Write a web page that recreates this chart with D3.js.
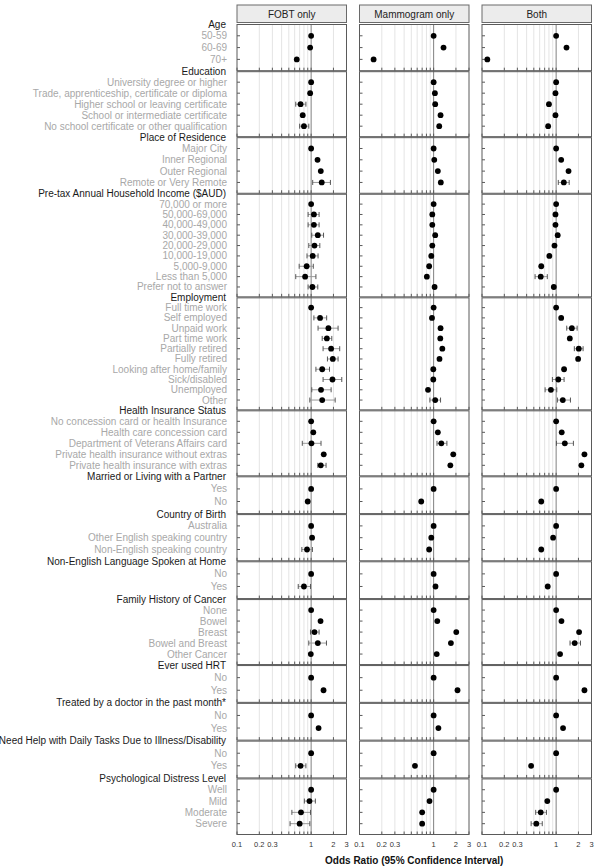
<!DOCTYPE html>
<html>
<head>
<meta charset="utf-8">
<script src="https://cdn.jsdelivr.net/npm/d3@7"></script>
<style>
  body { margin: 0; background: #fff; }
  text { font-family: "Liberation Sans", Arial, Helvetica, sans-serif; }
</style>
</head>
<body>
<svg id="chart" width="600" height="866"></svg>
<script>
// ---- data ----
const groups = [
  "Age", "Education", "Place of Residence", "Pre-tax Annual Household Income ($AUD)",
  "Employment", "Health Insurance Status", "Married or Living with a Partner",
  "Country of Birth", "Non-English Language Spoken at Home", "Family History of Cancer",
  "Ever used HRT", "Treated by a doctor in the past month*",
  "Need Help with Daily Tasks Due to Illness/Disability", "Psychological Distress Level"
];

const items = [
  ["50-59", "60-69", "70+"],
  ["University degree or higher", "Trade, apprenticeship, certificate or diploma",
   "Higher school or leaving certificate", "School or intermediate certificate",
   "No school certificate or other qualification"],
  ["Major City", "Inner Regional", "Outer Regional", "Remote or Very Remote"],
  ["70,000 or more", "50,000-69,000", "40,000-49,000", "30,000-39,000", "20,000-29,000",
   "10,000-19,000", "5,000-9,000", "Less than 5,000", "Prefer not to answer"],
  ["Full time work", "Self employed", "Unpaid work", "Part time work", "Partially retired",
   "Fully retired", "Looking after home/family", "Sick/disabled", "Unemployed", "Other"],
  ["No concession card or health Insurance", "Health care concession card",
   "Department of Veterans Affairs card", "Private health insurance without extras",
   "Private health insurance with extras"],
  ["Yes", "No"],
  ["Australia", "Other English speaking country", "Non-English speaking country"],
  ["No", "Yes"],
  ["None", "Bowel", "Breast", "Bowel and Breast", "Other Cancer"],
  ["No", "Yes"],
  ["No", "Yes"],
  ["No", "Yes"],
  ["Well", "Mild", "Moderate", "Severe"]
];

const panelTitles = ["FOBT only", "Mammogram only", "Both"];

const fobtOR = [
  [1, 0.97, 0.64],
  [1, 0.97, 0.72, 0.77, 0.80],
  [1, 1.22, 1.35, 1.39],
  [1, 1.09, 1.09, 1.23, 1.11, 1.05, 0.87, 0.83, 1.04],
  [1, 1.32, 1.71, 1.63, 1.86, 1.96, 1.41, 1.94, 1.36, 1.41],
  [1, 1.07, 1.01, 1.48, 1.35],
  [1, 0.90],
  [1, 1.03, 0.88],
  [1, 0.80],
  [1, 1.34, 1.11, 1.23, 0.99],
  [1, 1.47],
  [1, 1.26],
  [1, 0.72],
  [1, 0.95, 0.73, 0.70]
];
const fobtLo = [
  [null, null, null],
  [null, null, 0.62, null, 0.70],
  [null, null, null, 1.05],
  [null, 0.91, 0.91, 1.02, 0.93, 0.88, 0.69, 0.62, 0.91],
  [null, 1.09, 1.24, 1.41, 1.45, 1.66, 1.16, 1.45, 1.02, 0.96],
  [null, null, 0.76, null, 1.23],
  [null, null],
  [null, null, 0.75],
  [null, 0.67],
  [null, null, 0.98, 0.93, null],
  [null, null],
  [null, null],
  [null, 0.62],
  [null, 0.81, 0.55, 0.52]
];
const fobtHi = [
  [null, null, null],
  [null, null, 0.85, null, 0.93],
  [null, null, null, 1.82],
  [null, 1.28, 1.28, 1.47, 1.31, 1.24, 1.07, 1.16, 1.23],
  [null, 1.62, 2.31, 1.90, 2.43, 2.31, 1.77, 2.59, 1.86, 2.11],
  [null, null, 1.36, null, 1.59],
  [null, null],
  [null, null, 1.04],
  [null, 0.98],
  [null, null, 1.28, 1.61, null],
  [null, null],
  [null, null],
  [null, 0.85],
  [null, 1.14, 0.98, 0.96]
];

const mammoOR = [
  [1, 1.36, 0.155],
  [1, 1.04, 1.05, 1.24, 1.19],
  [1, 1.02, 1.14, 1.25],
  [1, 0.96, 0.96, 1.05, 0.96, 0.93, 0.87, 0.81, 1.03],
  [1, 0.95, 1.24, 1.23, 1.31, 1.20, 0.99, 0.99, 0.84, 1.05],
  [1, 1.14, 1.27, 1.84, 1.68],
  [1, 0.68],
  [1, 0.93, 0.87],
  [1, 1.06],
  [1, 1.12, 2.02, 1.71, 1.10],
  [1, 2.10],
  [1, 1.16],
  [1, 0.56],
  [1, 0.88, 0.70, 0.70]
];
const mammoLo = [
  [null, null, null],
  [null, null, null, null, null],
  [null, null, null, null],
  [null, null, null, null, null, null, null, null, null],
  [null, null, null, null, null, null, null, null, null, 0.89],
  [null, null, 1.11, null, null],
  [null, null],
  [null, null, null],
  [null, null],
  [null, null, null, null, null],
  [null, null],
  [null, null],
  [null, null],
  [null, null, null, null]
];
const mammoHi = [
  [null, null, null],
  [null, null, null, null, null],
  [null, null, null, null],
  [null, null, null, null, null, null, null, null, null],
  [null, null, null, null, null, null, null, null, null, 1.24],
  [null, null, 1.51, null, null],
  [null, null],
  [null, null, null],
  [null, null],
  [null, null, null, null, null],
  [null, null],
  [null, null],
  [null, null],
  [null, null, null, null]
];

const bothOR = [
  [1, 1.38, 0.118],
  [1, 0.98, 0.80, 0.98, 0.78],
  [1, 1.17, 1.47, 1.27],
  [1, 0.98, 0.98, 1.05, 0.95, 0.81, 0.63, 0.62, 0.93],
  [1, 1.17, 1.63, 1.53, 2.02, 1.98, 1.28, 1.07, 0.85, 1.23],
  [1, 1.19, 1.31, 2.41, 2.19],
  [1, 0.63],
  [1, 0.91, 0.63],
  [1, 0.77],
  [1, 1.18, 2.04, 1.78, 1.13],
  [1, 2.41],
  [1, 1.24],
  [1, 0.46],
  [1, 0.76, 0.62, 0.54]
];
const bothLo = [
  [null, null, null],
  [null, null, null, null, null],
  [null, null, null, 1.07],
  [null, null, null, null, null, null, null, 0.52, null],
  [null, null, 1.39, null, 1.76, null, null, 0.89, 0.71, 1.04],
  [null, null, 1.01, null, null],
  [null, null],
  [null, null, null],
  [null, null],
  [null, null, null, 1.54, null],
  [null, null],
  [null, null],
  [null, null],
  [null, null, 0.53, 0.46]
];
const bothHi = [
  [null, null, null],
  [null, null, null, null, null],
  [null, null, null, 1.50],
  [null, null, null, null, null, null, null, 0.76, null],
  [null, null, 1.92, null, 2.31, null, null, 1.28, 1.02, 1.56],
  [null, null, 1.71, null, null],
  [null, null],
  [null, null, null],
  [null, null],
  [null, null, null, 2.13, null],
  [null, null],
  [null, null],
  [null, null],
  [null, null, 0.74, 0.65]
];

const gridTicks = [0.2, 0.3, 0.4, 0.5, 0.6, 0.7, 0.8, 0.9, 2];
const minorTicks = [0.1, 0.2, 0.3, 0.4, 0.5, 0.6, 0.7, 0.8, 0.9, 1, 2, 3];
const tickLabels = [0.1, 0.2, 0.3, 1, 2, 3];

// ---- layout ----
const svg = d3.select('#chart');
const plotTop = 24, plotBottom = 835;
const panelLeft = 237, panelW = 109.5, panelStep = 122.5;
const labelRight = 227;

const perRow = 9.4;
const nRows = d3.sum(items, d => d.length);
const perGroup = (plotBottom - plotTop - perRow * nRows) / groups.length;

let acc = plotTop;
const layout = items.map(list => {
  const h = perGroup + perRow * list.length;
  const g = { y0: acc, y1: acc + h, n: list.length };
  acc += h;
  return g;
});
const rowY = (g, i) => layout[g].y0 + (layout[g].y1 - layout[g].y0) * (i + 1) / (layout[g].n + 1);

const panels = [
  { title: panelTitles[0], or: fobtOR, lo: fobtLo, hi: fobtHi },
  { title: panelTitles[1], or: mammoOR, lo: mammoLo, hi: mammoHi },
  { title: panelTitles[2], or: bothOR, lo: bothLo, hi: bothHi }
];

// ---- left labels ----
const labels = svg.append('g').attr('font-size', 10);
groups.forEach((name, g) => {
  labels.append('text')
    .attr('x', labelRight - 1).attr('y', layout[g].y0)
    .attr('dy', '0.35em').attr('text-anchor', 'end')
    .attr('fill', '#1a1a1a').text(name);
  items[g].forEach((it, i) => {
    labels.append('text')
      .attr('x', labelRight).attr('y', rowY(g, i))
      .attr('dy', '0.35em').attr('text-anchor', 'end')
      .attr('fill', '#a8a8a8').text(it);
  });
});

// ---- panels ----
panels.forEach((p, k) => {
  const x0 = panelLeft + k * panelStep;
  const x = d3.scaleLog().domain([0.1, 3]).range([x0, x0 + panelW]);
  const pg = svg.append('g');

  // strip
  pg.append('rect')
    .attr('x', x0).attr('y', 5).attr('width', panelW).attr('height', 17.5)
    .attr('fill', '#ececec').attr('stroke', '#6a6a6a');
  pg.append('text')
    .attr('x', x0 + panelW / 2).attr('y', 14).attr('dy', '0.35em')
    .attr('text-anchor', 'middle').attr('font-size', 10).attr('fill', '#222')
    .text(p.title);

  // grid + reference line
  pg.selectAll('line.grid').data(gridTicks).join('line')
    .attr('class', 'grid')
    .attr('x1', d => x(d)).attr('x2', d => x(d))
    .attr('y1', plotTop).attr('y2', plotBottom)
    .attr('stroke', '#e4e4e4');
  pg.append('line')
    .attr('x1', x(1)).attr('x2', x(1)).attr('y1', plotTop).attr('y2', plotBottom)
    .attr('stroke', '#808080');

  layout.forEach((L, g) => {
    // border
    pg.append('rect')
      .attr('x', x0).attr('y', L.y0 + 0.5)
      .attr('width', panelW).attr('height', L.y1 - L.y0 - 1)
      .attr('fill', 'none').attr('stroke', '#5a5a5a');
    // bottom ticks (inside)
    minorTicks.forEach(t => {
      pg.append('line')
        .attr('x1', x(t)).attr('x2', x(t))
        .attr('y1', L.y1 - 0.5).attr('y2', L.y1 - 3.5)
        .attr('stroke', '#5a5a5a');
    });
    items[g].forEach((it, i) => {
      const y = rowY(g, i);
      pg.append('line')
        .attr('x1', x0).attr('x2', x0 + 3).attr('y1', y).attr('y2', y)
        .attr('stroke', '#5a5a5a');
      const lo = p.lo[g][i], hi = p.hi[g][i];
      if (lo != null && hi != null) {
        pg.append('line')
          .attr('x1', x(lo)).attr('x2', x(hi)).attr('y1', y).attr('y2', y)
          .attr('stroke', '#9a9a9a');
        [lo, hi].forEach(v => {
          pg.append('line')
            .attr('x1', x(v)).attr('x2', x(v)).attr('y1', y - 2.5).attr('y2', y + 2.5)
            .attr('stroke', '#555');
        });
      }
      pg.append('circle')
        .attr('cx', x(p.or[g][i])).attr('cy', y).attr('r', 2.9)
        .attr('fill', '#000');
    });
  });

  // axis labels
  pg.selectAll('text.tick').data(tickLabels).join('text')
    .attr('class', 'tick')
    .attr('x', d => x(d)).attr('y', 844).attr('dy', '0.35em')
    .attr('text-anchor', 'middle').attr('font-size', 7.5).attr('fill', '#333')
    .text(d => d);
});

svg.append('text')
  .attr('x', panelLeft + (2 * panelStep + panelW) / 2).attr('y', 860).attr('dy', '0.35em')
  .attr('text-anchor', 'middle').attr('font-size', 10).attr('font-weight', 'bold')
  .attr('fill', '#111')
  .text('Odds Ratio (95% Confidence Interval)');
</script>
</body>
</html>
